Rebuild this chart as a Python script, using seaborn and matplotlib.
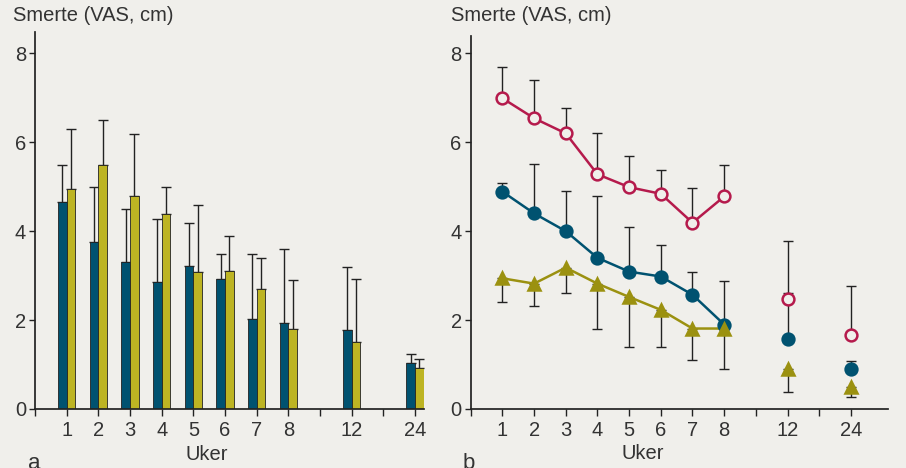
import numpy as np
import pandas as pd
import seaborn as sns
import matplotlib.pyplot as plt

# weeks (x categories)
weeks = ["1", "2", "3", "4", "5", "6", "7", "8", "12", "24"]
slots = [1, 2, 3, 4, 5, 6, 7, 8, 10, 12]   # axis slot for each week

# panel a: bars (mean) and upper error bar ends
bar_blue = [4.66, 3.76, 3.31, 2.85, 3.22, 2.92, 2.03, 1.93, 1.78, 1.03]
bar_blue_err = [5.5, 4.99, 4.49, 4.28, 4.19, 3.49, 3.49, 3.6, 3.2, 1.24]
bar_yel = [4.96, 5.49, 4.8, 4.39, 3.09, 3.1, 2.71, 1.81, 1.51, 0.92]
bar_yel_err = [6.29, 6.5, 6.18, 4.99, 4.6, 3.9, 3.39, 2.9, 2.92, 1.12]

# panel b: three groups, error bar end (red/blue up, olive down)
red = [6.99, 6.54, 6.2, 5.28, 4.99, 4.84, 4.19, 4.78, 2.47, 1.66]
red_err = [7.7, 7.4, 6.78, 6.2, 5.7, 5.37, 4.98, 5.48, 3.78, 2.77]
blue = [4.89, 4.4, 4.0, 3.4, 3.09, 2.98, 2.57, 1.9, 1.57, 0.9]
blue_err = [5.09, 5.51, 4.9, 4.8, 4.09, 3.7, 3.09, 2.87, 2.6, 1.09]
olive = [2.94, 2.82, 3.18, 2.82, 2.52, 2.23, 1.81, 1.81, 0.89, 0.5]
olive_err = [2.41, 2.32, 2.6, 1.81, 1.4, 1.4, 1.1, 0.89, 0.39, 0.28]

BG = "#f0efeb"
C_BLUE = "#005270"
C_YBAR = "#bdb423"
C_OLIVE = "#9b9110"
C_RED = "#b51a4c"
INK = "#222222"
TXT = "#333333"
FS = 14.5

sns.set_theme(style="ticks", rc={"axes.facecolor": BG, "figure.facecolor": BG})
plt.rcParams['font.family'] = ['Liberation Sans', 'DejaVu Sans']

fig = plt.figure(figsize=(9.06, 4.68), dpi=100)
W, H = 906, 468
axa = fig.add_axes([35 / W, 1 - 409 / H, 389 / W, 377.3 / H])
axb = fig.add_axes([470.7 / W, 1 - 409 / H, 417.3 / W, 373 / H])

x = np.array(slots, dtype=float)
df = pd.DataFrame({"week": weeks, "x": x})

# ---- panel a
bw = 0.275
axa.bar(x - bw / 2, bar_blue, width=bw, color=C_BLUE, edgecolor=INK, linewidth=0.6, zorder=2)
axa.bar(x + bw / 2, bar_yel, width=bw, color=C_YBAR, edgecolor=INK, linewidth=0.6, zorder=2)
axa.errorbar(x - bw / 2, bar_blue, yerr=[np.zeros(len(x)), np.array(bar_blue_err) - bar_blue],
             fmt="none", ecolor=INK, elinewidth=1, capsize=3.5, capthick=1, zorder=1)
axa.errorbar(x + bw / 2, bar_yel, yerr=[np.zeros(len(x)), np.array(bar_yel_err) - bar_yel],
             fmt="none", ecolor=INK, elinewidth=1, capsize=3.5, capthick=1, zorder=1)
axa.set_xlim(0, 12.28)
axa.set_ylim(0, 8.49)

# ---- panel b
lines = df[df.x <= 8]
for vals, err, col, mk, fill in [(red, red_err, C_RED, "o", BG),
                                 (blue, blue_err, C_BLUE, "o", C_BLUE),
                                 (olive, olive_err, C_OLIVE, "^", C_OLIVE)]:
    vals = np.array(vals)
    err = np.array(err)
    lo = np.where(err < vals, vals - err, 0)
    hi = np.where(err > vals, err - vals, 0)
    axb.errorbar(x, vals, yerr=[lo, hi], fmt="none", ecolor=INK, elinewidth=1,
                 capsize=3.5, capthick=1, zorder=1)
    sns.lineplot(x=lines.x, y=vals[:len(lines)], ax=axb, color=col, linewidth=1.8, zorder=2)
    axb.plot(x, vals, linestyle="none", marker=mk, markersize=9 if mk == "^" else 8.5,
             markerfacecolor=fill, markeredgecolor=col, markeredgewidth=1.8, zorder=3)
axb.set_xlim(0, 13.17)
axb.set_ylim(0, 8.39)

for ax, lx in ((axa, 0.442), (axb, 0.413)):
    sns.despine(ax=ax)
    ax.spines["left"].set_color(INK)
    ax.spines["bottom"].set_color(INK)
    ax.set_xticks(range(0, 13))
    labels = [""] * 13
    for w, s in zip(weeks, slots):
        labels[s] = w
    ax.set_xticklabels(labels)
    ax.set_yticks([0, 2, 4, 6, 8])
    ax.tick_params(axis="x", length=5, width=1, color=INK, labelsize=FS, pad=4, labelcolor=TXT)
    ax.tick_params(axis="y", length=4.5, width=1, color=INK, labelsize=FS, pad=2, labelcolor=TXT)
    ax.set_xlabel("Uker", fontsize=FS, color=TXT, labelpad=2)
    ax.xaxis.set_label_coords(lx, -0.095)
    ax.set_ylabel("")
    ax.grid(False)

fig.text(13 / W, 1 - 6 / H, "Smerte (VAS, cm)", fontsize=FS, color=TXT, va="top")
fig.text(451 / W, 1 - 6 / H, "Smerte (VAS, cm)", fontsize=FS, color=TXT, va="top")
fig.text(28 / W, 1 - 453 / H, "a", fontsize=16, color=TXT, va="top")
fig.text(463 / W, 1 - 453 / H, "b", fontsize=16, color=TXT, va="top")

fig.savefig("out.png", dpi=100, facecolor=BG)
